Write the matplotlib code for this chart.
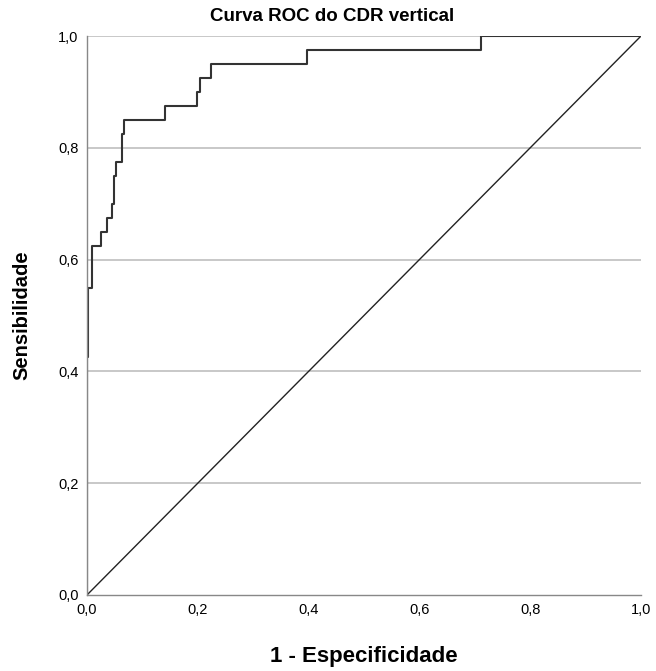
import matplotlib
matplotlib.use("Agg")
import matplotlib.pyplot as plt

# ROC corners: at each fpr the curve jumps up to tpr, then runs right
fpr = [0.0, 0.0, 0.0025, 0.0096, 0.025, 0.037, 0.046, 0.048, 0.0515, 0.064, 0.067,
       0.141, 0.199, 0.204, 0.223, 0.397, 0.711, 1.0]
tpr = [0.0, 0.425, 0.55, 0.625, 0.65, 0.675, 0.70, 0.75, 0.775, 0.825, 0.85,
       0.875, 0.90, 0.925, 0.95, 0.975, 1.0, 1.0]
ref_line = [0.0, 1.0]
ticks = [0.0, 0.2, 0.4, 0.6, 0.8, 1.0]
tick_labels = ["0,0", "0,2", "0,4", "0,6", "0,8", "1,0"]

plt.rcParams['font.family'] = ['Liberation Sans', 'DejaVu Sans']

fig = plt.figure(figsize=(6.56, 6.71), dpi=100)
ax = fig.add_axes([0.1326, 0.1133, 0.8445, 0.833])

for t in ticks[1:]:
    ax.axhline(t, color='#c8c8c8', lw=1.4, zorder=0)

ax.plot(ref_line, ref_line, color='#222222', lw=1.0)
ax.step(fpr, tpr, where='post', color='#333333', lw=1.5)

ax.set_xlim(0, 1)
ax.set_ylim(0, 1)
ax.set_xticks(ticks)
ax.set_xticklabels(tick_labels)
ax.set_yticks(ticks)
ax.set_yticklabels(tick_labels)
ax.tick_params(axis='x', labelsize=10.5, length=0, pad=6)
ax.tick_params(axis='y', labelsize=10.5, length=0, pad=6)

for s in ['top', 'right']:
    ax.spines[s].set_visible(False)
for s in ['left', 'bottom']:
    ax.spines[s].set_color('#888888')
    ax.spines[s].set_linewidth(1.0)

fig.text(0.507, 0.975, "Curva ROC do CDR vertical", fontsize=13.5,
         fontweight='bold', ha='center', va='center')
ax.set_xlabel("1 - Especificidade", fontsize=16, fontweight='bold', labelpad=21)
ax.set_ylabel("Sensibilidade", fontsize=14.5, fontweight='bold', labelpad=19)

fig.savefig("out.png", dpi=100)
